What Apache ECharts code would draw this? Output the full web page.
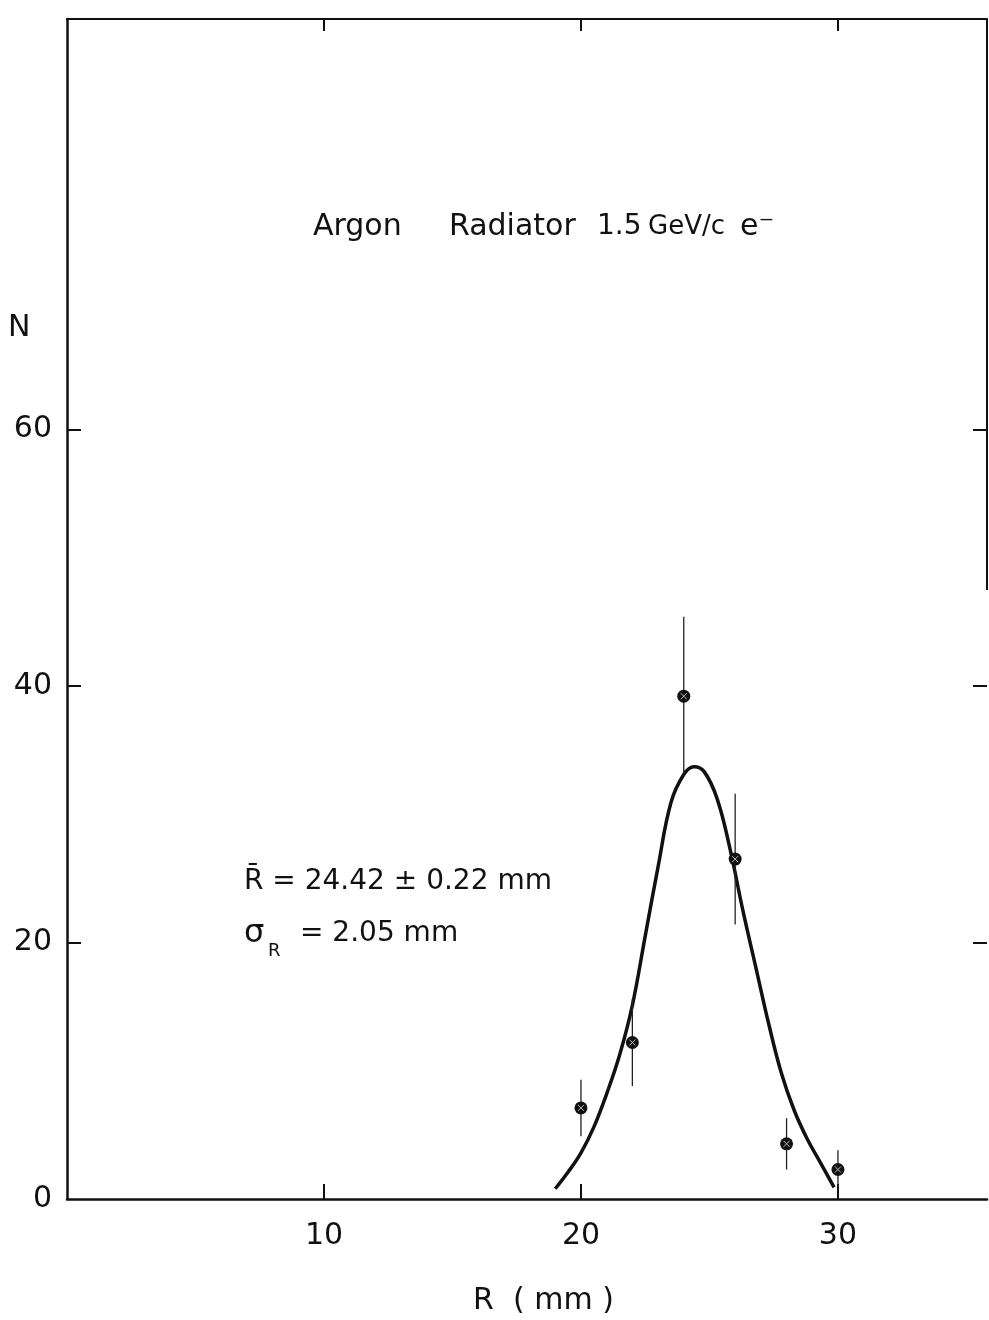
<!DOCTYPE html>
<html lang="en">
<head>
    <meta charset="utf-8">
    <script src="https://cdn.jsdelivr.net/npm/echarts@6/dist/echarts.min.js"></script>
    <style>
        html, body { margin: 0; padding: 0; background: #fff; }
        #chart { width: 989px; height: 1320px; }
    </style>
</head>
<body>
<div id="chart"></div>
<script>
    // ticks
    var xTicks = [10, 20, 30];
    var yTicks = [0, 20, 40, 60];

    // measured points: R (mm), N, error
    var radius = [20, 22, 24, 26, 28, 30];
    var counts = [7.1, 12.2, 39.2, 26.5, 4.3, 2.3];
    var errors = [2.2, 3.4, 6.2, 5.1, 2.0, 1.5];

    // fitted curve
    var fitR = [19.0, 19.5, 20.0, 20.5, 21.0, 21.5, 22.0, 22.5, 23.0, 23.5, 24.0, 24.4, 24.8, 25.3, 25.8, 26.3, 26.8, 27.3, 27.8, 28.3, 28.8, 29.3, 29.85];
    var fitN = [0.8, 2.1, 3.6, 5.6, 8.2, 11.2, 15.1, 20.5, 25.9, 30.9, 33.1, 33.7, 33.3, 31.2, 27.3, 22.5, 18.1, 13.7, 9.8, 6.9, 4.7, 2.9, 0.9];

    var FONT = 'DejaVu Sans';
    var INK = '#111';

    var chart = echarts.init(document.getElementById('chart'));

    var points = radius.map(function (r, i) { return [r, counts[i], errors[i]]; });
    var curve = fitR.map(function (r, i) { return [r, fitN[i]]; });

    function drawPoint(params, api) {
        var x = api.value(0), y = api.value(1), e = api.value(2);
        var top = api.coord([x, y + e]);
        var bot = api.coord([x, y - e]);
        var c = api.coord([x, y]);
        return {
            type: 'group',
            children: [
                {type: 'line', shape: {x1: top[0], y1: top[1], x2: bot[0], y2: bot[1]}, style: {stroke: '#222', lineWidth: 1.3}},
                {type: 'circle', shape: {cx: c[0], cy: c[1], r: 6.5}, style: {fill: INK}},
                {type: 'line', shape: {x1: c[0] - 3, y1: c[1] - 3, x2: c[0] + 3, y2: c[1] + 3}, style: {stroke: '#bbb', lineWidth: 1}},
                {type: 'line', shape: {x1: c[0] - 3, y1: c[1] + 3, x2: c[0] + 3, y2: c[1] - 3}, style: {stroke: '#bbb', lineWidth: 1}}
            ]
        };
    }

    function txt(x, y, s, size) {
        return {
            type: 'text', left: x, top: y,
            style: {text: s, fill: INK, font: 'normal ' + size + 'px "' + FONT + '"'}
        };
    }

    var option = {
        backgroundColor: '#fff',
        animation: false,
        grid: {left: 67, right: 2, top: 19, bottom: 121},
        xAxis: [{
            type: 'value', position: 'bottom', min: 0, max: 35.8, interval: 10,
            axisLine: {onZero: false, lineStyle: {color: INK, width: 2.5}},
            axisTick: {inside: true, length: 15, customValues: xTicks, lineStyle: {color: INK, width: 2}},
            axisLabel: {customValues: xTicks, fontSize: 30, fontFamily: FONT, color: INK, margin: 22},
            splitLine: {show: false}
        }, {
            type: 'value', position: 'top', min: 0, max: 35.8, interval: 10,
            axisLine: {onZero: false, lineStyle: {color: INK, width: 2}},
            axisTick: {inside: true, length: 12, customValues: xTicks, lineStyle: {color: INK, width: 2}},
            axisLabel: {show: false},
            splitLine: {show: false}
        }],
        yAxis: [{
            type: 'value', position: 'left', min: 0, max: 92, interval: 20,
            axisLine: {show: true, onZero: false, lineStyle: {color: INK, width: 2.5}},
            axisTick: {show: true, inside: true, length: 14, customValues: [20, 40, 60], lineStyle: {color: INK, width: 2}},
            axisLabel: {customValues: yTicks, fontSize: 30, fontFamily: FONT, color: INK, margin: 15},
            splitLine: {show: false}
        }, {
            type: 'value', position: 'right', min: 0, max: 92, interval: 20,
            axisLine: {show: false, onZero: false},
            axisTick: {show: true, inside: true, length: 14, customValues: [20, 40, 60], lineStyle: {color: INK, width: 2}},
            axisLabel: {show: false},
            splitLine: {show: false}
        }],
        graphic: [
            {type: 'line', shape: {x1: 987, y1: 19, x2: 987, y2: 590}, style: {stroke: INK, lineWidth: 2}},
            txt(8, 313, 'N', 30),
            txt(313, 212, 'Argon', 30),
            txt(449, 212, 'Radiator', 30),
            txt(597, 213, '1.5', 28),
            txt(648, 214, 'GeV/c', 26),
            txt(740, 212, 'e\u207B', 30),
            txt(244, 868, 'R\u0304 = 24.42 \u00B1 0.22 mm', 28),
            txt(244, 918, '\u03C3', 32),
            txt(268, 942, 'R', 18),
            txt(300, 920, '= 2.05 mm', 28),
            txt(473, 1286, 'R  ( mm )', 30)
        ],
        series: [{
            type: 'line',
            data: curve,
            smooth: 0.4,
            symbol: 'none',
            lineStyle: {color: INK, width: 3.5},
            z: 2
        }, {
            type: 'custom',
            data: points,
            renderItem: drawPoint,
            z: 3
        }]
    };

    chart.setOption(option);
</script>
</body>
</html>
